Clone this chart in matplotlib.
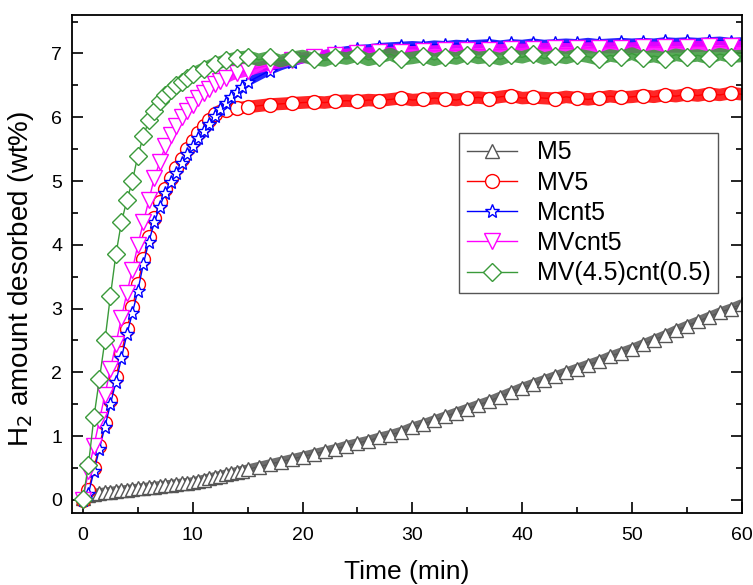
import numpy as np
import matplotlib
matplotlib.use("Agg")
import matplotlib.pyplot as plt

plt.rcParams['font.family'] = ['Liberation Sans', 'DejaVu Sans']

# -----------------------------------------------------------------------------
# Datos (wt% H2 desorbido frente a tiempo en min)
# -----------------------------------------------------------------------------
t_min = np.concatenate([np.arange(0, 15.01, 0.5), np.arange(16, 61, 1)])

m5 = [0.03, 0.08, 0.10, 0.11, 0.12, 0.13, 0.14, 0.15, 0.16, 0.17, 0.18,
      0.19, 0.20, 0.21, 0.22, 0.23, 0.24, 0.25, 0.26, 0.27, 0.28, 0.30,
      0.32, 0.34, 0.36, 0.38, 0.40, 0.42, 0.44, 0.46, 0.48,
      0.52, 0.56, 0.60, 0.64, 0.68, 0.72, 0.76, 0.80, 0.85, 0.89,
      0.93, 0.98, 1.02, 1.07, 1.14, 1.19, 1.25, 1.31, 1.37, 1.43,
      1.49, 1.55, 1.62, 1.69, 1.76, 1.82, 1.88, 1.94, 2.00, 2.06,
      2.12, 2.18, 2.25, 2.31, 2.37, 2.44, 2.51, 2.58, 2.66, 2.73,
      2.80, 2.87, 2.94, 3.00, 3.07]

mv5 = [0.0, 0.15, 0.50, 0.85, 1.20, 1.57, 1.93, 2.30, 2.68, 3.02, 3.38,
       3.78, 4.12, 4.42, 4.67, 4.88, 5.05, 5.20, 5.35, 5.50, 5.63, 5.75,
       5.86, 5.95, 6.05, 6.10, 6.12, 6.13, 6.14, 6.15, 6.16,
       6.18, 6.20, 6.21, 6.22, 6.23, 6.24, 6.23, 6.25, 6.26, 6.25,
       6.27, 6.26, 6.28, 6.30, 6.27, 6.28, 6.30, 6.29, 6.27, 6.30,
       6.31, 6.29, 6.32, 6.34, 6.30, 6.31, 6.30, 6.29, 6.32, 6.30,
       6.28, 6.30, 6.33, 6.31, 6.32, 6.34, 6.32, 6.35, 6.33, 6.36,
       6.34, 6.37, 6.35, 6.38, 6.36]

mcnt5 = [0.0, 0.10, 0.45, 0.80, 1.15, 1.50, 1.85, 2.22, 2.60, 2.93, 3.28,
         3.70, 4.05, 4.35, 4.60, 4.82, 4.98, 5.13, 5.28, 5.42, 5.55, 5.67,
         5.78, 5.90, 6.02, 6.13, 6.23, 6.31, 6.40, 6.48, 6.55,
         6.64, 6.73, 6.80, 6.86, 6.91, 6.95, 6.99, 7.02, 7.05, 7.07,
         7.08, 7.10, 7.11, 7.12, 7.13, 7.12, 7.14, 7.13, 7.15, 7.14,
         7.15, 7.16, 7.14, 7.16, 7.15, 7.17, 7.15, 7.16, 7.17, 7.16,
         7.18, 7.16, 7.17, 7.18, 7.17, 7.18, 7.17, 7.19, 7.18, 7.19,
         7.18, 7.19, 7.20, 7.18, 7.19]

mvcnt5 = [0.0, 0.45, 0.85, 1.25, 1.65, 2.05, 2.45, 2.85, 3.25, 3.60, 4.00,
          4.35, 4.70, 5.05, 5.30, 5.55, 5.72, 5.87, 6.00, 6.10, 6.20, 6.30,
          6.38, 6.45, 6.52, 6.57, 6.62, 6.66, 6.69, 6.71, 6.73,
          6.78, 6.82, 6.86, 6.90, 6.93, 6.95, 6.97, 6.98, 6.99, 7.00,
          7.01, 7.02, 7.02, 7.03, 7.03, 7.04, 7.04, 7.05, 7.05, 7.05,
          7.06, 7.06, 7.06, 7.07, 7.07, 7.07, 7.08, 7.08, 7.08, 7.08,
          7.09, 7.09, 7.09, 7.09, 7.09, 7.10, 7.10, 7.10, 7.10, 7.10,
          7.11, 7.11, 7.11, 7.11, 7.11]

mv45cnt05 = [0.02, 0.55, 1.30, 1.90, 2.50, 3.20, 3.85, 4.35, 4.70, 5.00, 5.40,
             5.70, 5.95, 6.10, 6.25, 6.35, 6.42, 6.50, 6.56, 6.62, 6.68, 6.72,
             6.76, 6.80, 6.84, 6.86, 6.89, 6.91, 6.93, 6.94, 6.95,
             6.90, 6.94, 6.88, 6.93, 6.96, 6.91, 6.89, 6.95, 6.92, 6.97,
             6.90, 6.94, 6.99, 6.91, 6.93, 6.96, 6.90, 6.95, 6.92, 6.98,
             6.93, 6.95, 6.91, 6.97, 6.94, 6.99, 6.92, 6.96, 6.93, 6.98,
             6.95, 6.91, 6.97, 6.94, 7.00, 6.93, 6.96, 6.92, 6.98, 6.95,
             6.97, 6.93, 6.99, 6.95, 6.96]

labels = ["M5", "MV5", "Mcnt5", "MVcnt5", "MV(4.5)cnt(0.5)"]
series = [m5, mv5, mcnt5, mvcnt5, mv45cnt05]
colors = ["#555555", "#ff0000", "#0000ff", "#ff00ff", "#3a9a3a"]
markers = ["^", "o", "*", "v", "D"]
msizes = [10, 10, 10, 11, 9]
# zona de meseta: alli los marcadores del original se solapan en una banda
band_lw = [7, 9, 6, 8, 9]
band_from = [0, 24, 30, 26, 20]   # indice donde empieza la banda

# -----------------------------------------------------------------------------
# Figura
# -----------------------------------------------------------------------------
fig = plt.figure(figsize=(7.53, 5.85), dpi=100)
ax = fig.add_axes([0.0956, 0.1236, 0.8894, 0.8504])

n = len(t_min)
for y, lab, c, mk, ms, bw, k in zip(series, labels, colors, markers,
                                    msizes, band_lw, band_from):
    y = np.asarray(y)
    ax.plot(t_min[k:], y[k:], color=c, lw=bw, alpha=0.85,
            solid_joinstyle="round", solid_capstyle="butt")
    step = 1 if k == 0 else 2
    every = list(range(0, k)) + list(range(k, n, step))
    ax.plot(t_min, y, color=c, lw=1.0, marker=mk, ms=ms, mfc="white",
            mec=c, mew=1.0, markevery=every, label=lab)

ax.set_xlim(-1, 60)
ax.set_ylim(-0.2, 7.6)
ax.set_xticks(np.arange(0, 61, 10))
ax.set_xticks(np.arange(0, 61, 5), minor=True)
ax.set_yticks(np.arange(0, 8, 1))
ax.set_yticks(np.arange(0, 7.6, 0.5), minor=True)
ax.tick_params(which="both", direction="in", right=True, top=False,
               labelsize=14, width=1.2)
ax.tick_params(which="major", length=8)
ax.tick_params(which="minor", length=4.5)
ax.tick_params(axis="x", which="both", pad=10)
ax.tick_params(axis="y", which="both", pad=7)
for sp in ax.spines.values():
    sp.set_linewidth(1.3)

ax.set_xlabel("Time (min)", fontsize=19, labelpad=12)
ax.set_ylabel("H$_2$ amount desorbed (wt%)", fontsize=20)
ax.yaxis.set_label_coords(-0.054, 0.47)

leg = ax.legend(loc="upper right", bbox_to_anchor=(0.9646, 0.7635),
                borderaxespad=0, fontsize=18, fancybox=False,
                edgecolor="#555555", framealpha=1, labelspacing=0.25,
                handlelength=2.0, borderpad=0.3)
leg.get_frame().set_linewidth(1.0)

fig.savefig("out.png", dpi=100)
